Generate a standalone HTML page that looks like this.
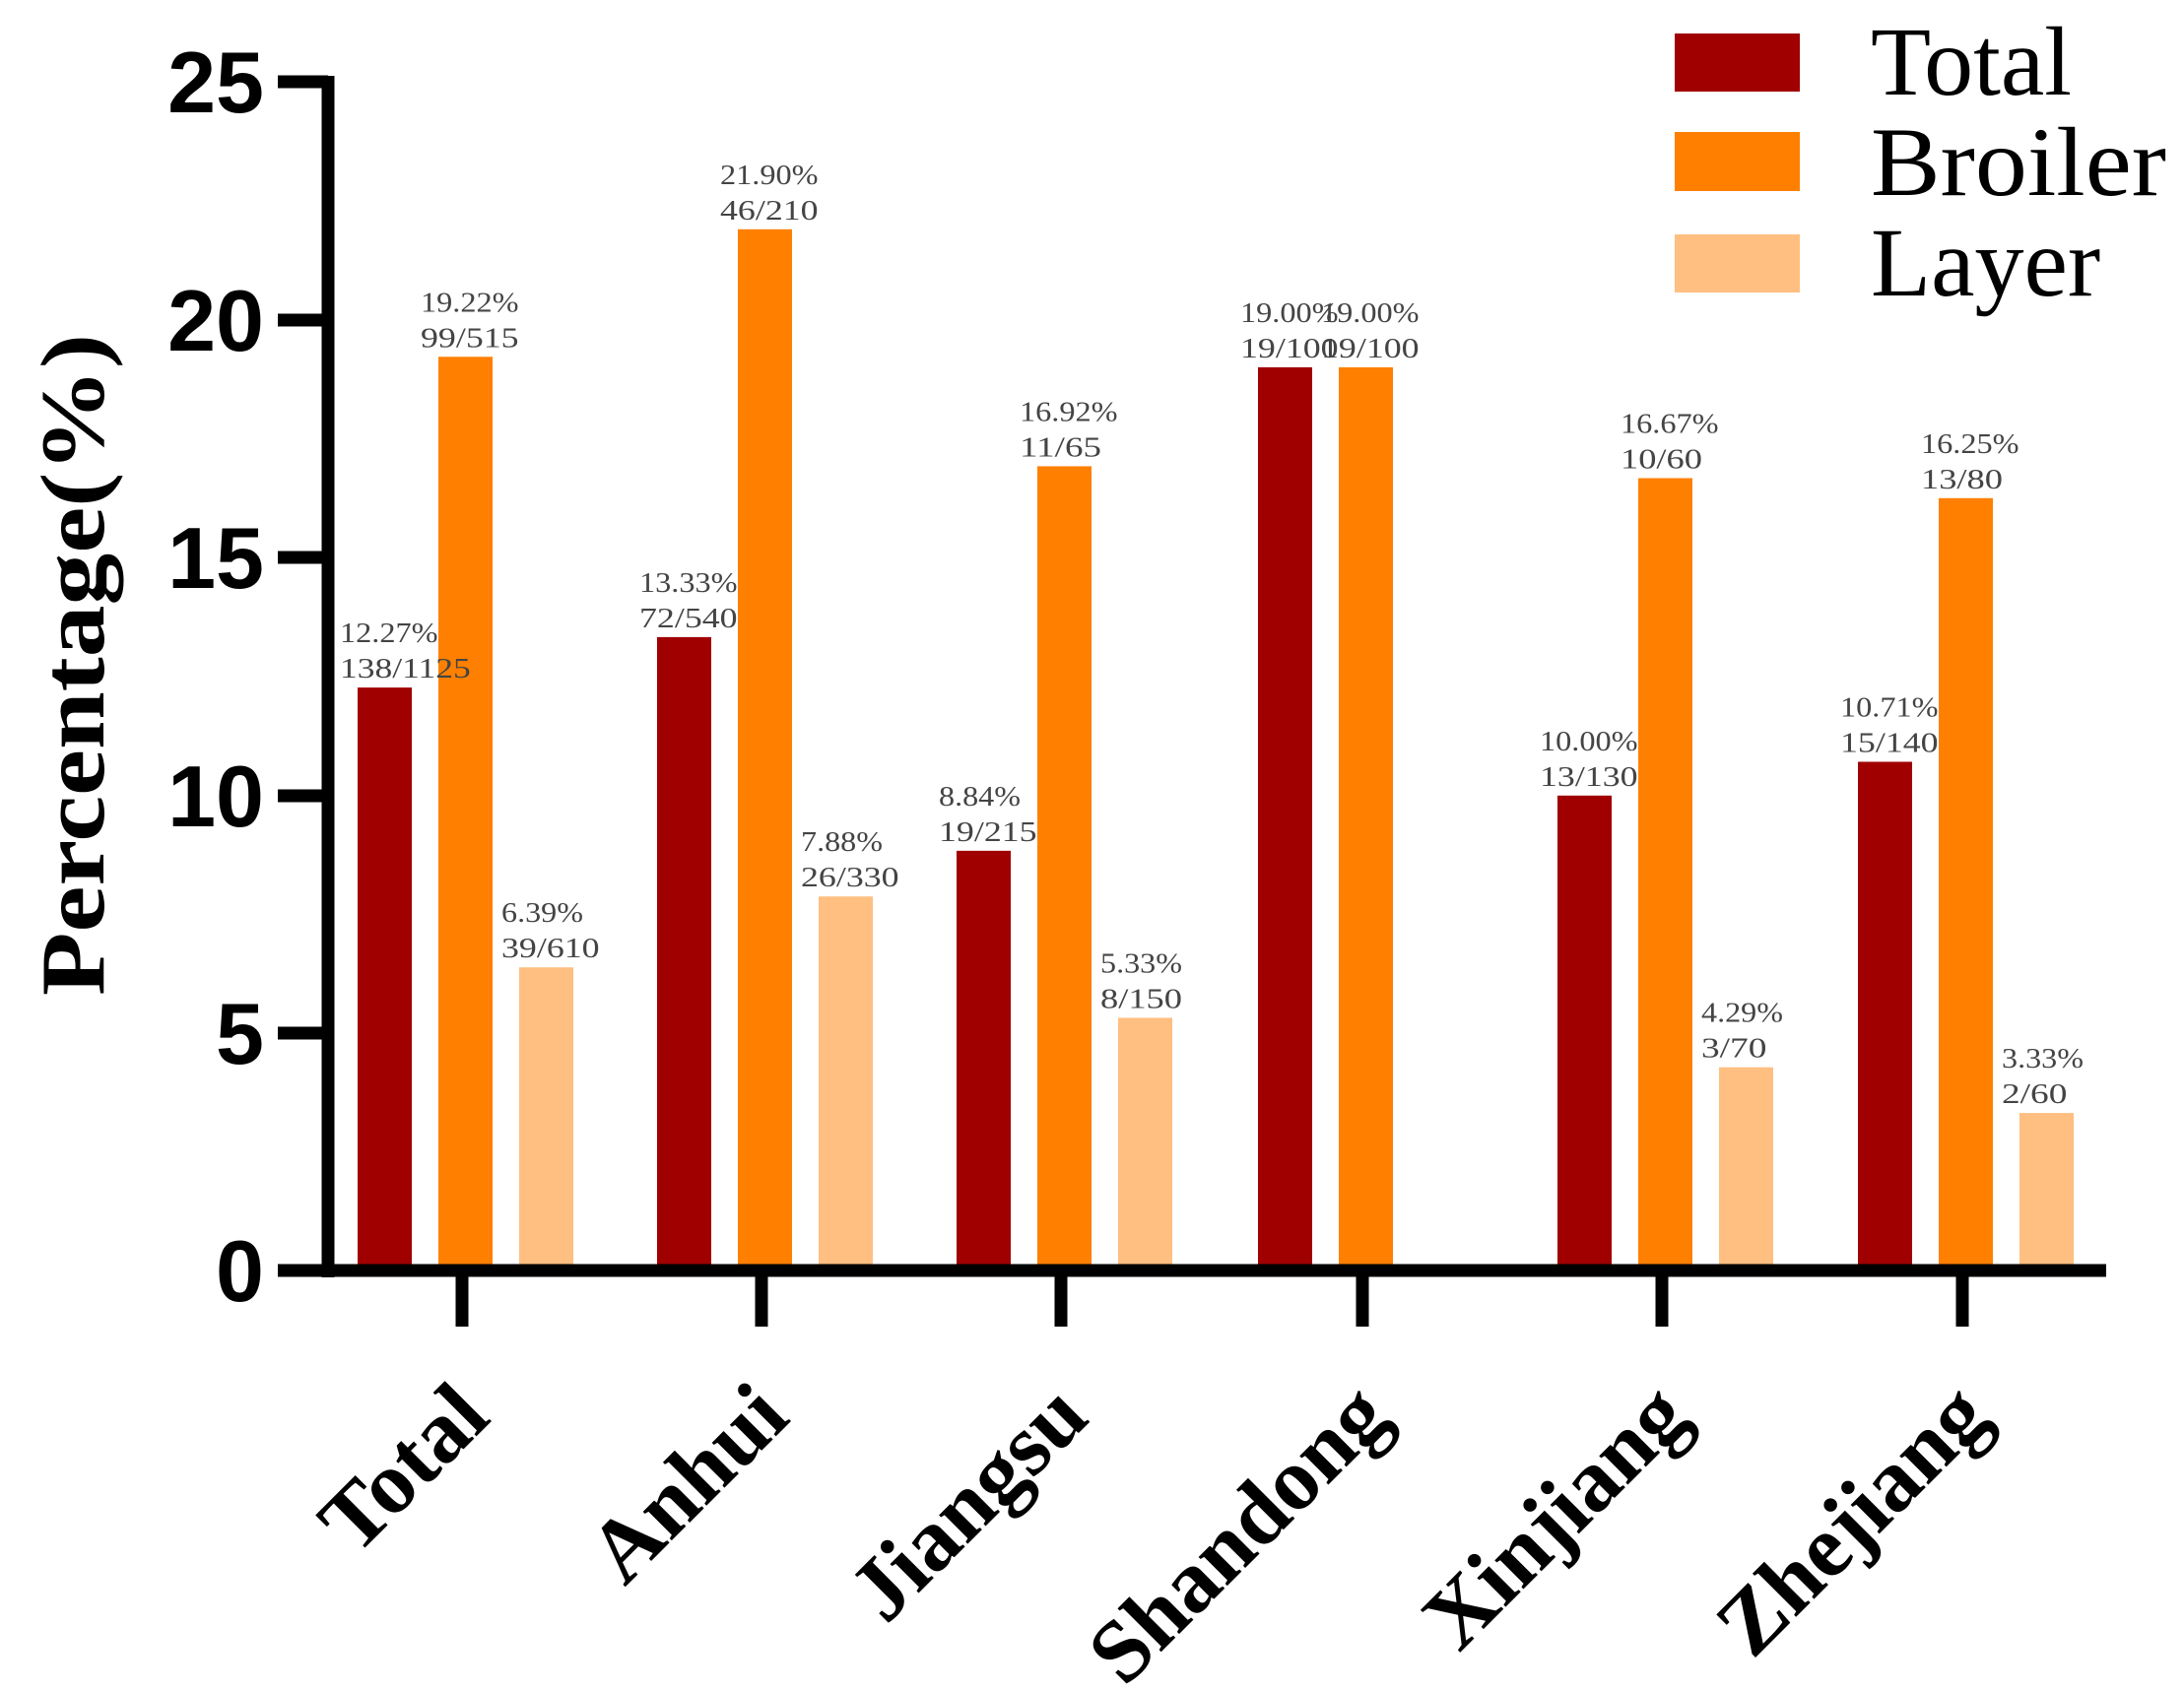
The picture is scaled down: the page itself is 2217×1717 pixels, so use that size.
<!DOCTYPE html>
<html><head><meta charset="utf-8"><style>
html,body{margin:0;padding:0;background:#fff;}
svg{display:block;}
</style></head><body>
<svg width="2217" height="1717" viewBox="0 0 2217 1717" xmlns="http://www.w3.org/2000/svg">
<rect width="2217" height="1717" fill="#fff"/>
<!-- bars -->
<g id="bars"></g>
<!-- axes -->
<line x1="333" y1="77" x2="333" y2="1297" stroke="#000" stroke-width="13"/>
<line x1="327" y1="1290" x2="2138" y2="1290" stroke="#000" stroke-width="13"/>
<g stroke="#000" stroke-width="13">
<line x1="282" y1="83" x2="333" y2="83"/>
<line x1="282" y1="325" x2="333" y2="325"/>
<line x1="282" y1="566" x2="333" y2="566"/>
<line x1="282" y1="808" x2="333" y2="808"/>
<line x1="282" y1="1049" x2="333" y2="1049"/>
<line x1="282" y1="1290" x2="333" y2="1290"/>
<line x1="469" y1="1290" x2="469" y2="1347"/>
<line x1="773" y1="1290" x2="773" y2="1347"/>
<line x1="1077" y1="1290" x2="1077" y2="1347"/>
<line x1="1383" y1="1290" x2="1383" y2="1347"/>
<line x1="1687" y1="1290" x2="1687" y2="1347"/>
<line x1="1992" y1="1290" x2="1992" y2="1347"/>
</g>
<g font-family="Liberation Sans, sans-serif" font-weight="bold" font-size="88" text-anchor="end" fill="#000">
<text x="268" y="114">25</text>
<text x="268" y="356">20</text>
<text x="268" y="597">15</text>
<text x="268" y="839">10</text>
<text x="268" y="1080">5</text>
<text x="268" y="1321">0</text>
</g>
<text transform="translate(105,675) rotate(-90)" text-anchor="middle" font-family="Liberation Serif, serif" font-weight="bold" font-size="92" textLength="672" lengthAdjust="spacingAndGlyphs">Percentage(%)</text>
<g font-family="Liberation Serif, serif" font-weight="bold" font-size="90" text-anchor="end">
<text transform="translate(500,1442) rotate(-45)">Total</text>
<text transform="translate(804,1442) rotate(-45)">Anhui</text>
<text transform="translate(1108,1442) rotate(-45)">Jiangsu</text>
<text transform="translate(1414,1442) rotate(-45)">Shandong</text>
<text transform="translate(1718,1442) rotate(-45)">Xinjiang</text>
<text transform="translate(2023,1442) rotate(-45)">Zhejiang</text>
</g>
<!-- legend -->
<rect x="1700" y="34" width="127" height="59" fill="#a00000"/>
<rect x="1700" y="134" width="127" height="60" fill="#ff8000"/>
<rect x="1700" y="238" width="127" height="59" fill="#ffbf80"/>
<g font-family="Liberation Serif, serif" font-size="100" fill="#000">
<text x="1899" y="96">Total</text>
<text x="1899" y="198" textLength="300" lengthAdjust="spacingAndGlyphs">Broiler</text>
<text x="1899" y="300">Layer</text>
</g>
<g id="labels" font-family="Liberation Serif, serif" font-size="28" fill="#444"></g>
<script>
var data=[[469,12.27,"138/1125",19.22,"99/515",6.39,"39/610"],
[773,13.33,"72/540",21.90,"46/210",7.88,"26/330"],
[1077,8.84,"19/215",16.92,"11/65",5.33,"8/150"],
[1383,19.00,"19/100",19.00,"19/100",null,null],
[1687,10.00,"13/130",16.67,"10/60",4.29,"3/70"],
[1992,10.71,"15/140",16.25,"13/80",3.33,"2/60"]];
var cols=["#a00000","#ff8000","#ffbf80"],offs=[-106,-24,58];
var ns="http://www.w3.org/2000/svg",bars=document.getElementById("bars"),lab=document.getElementById("labels");
function y(v){return 1291-v*48.32;}
data.forEach(function(d){
 for(var i=0;i<3;i++){var v=d[1+2*i];if(v===null)continue;
  var x=d[0]+offs[i],t=y(v);
  var r=document.createElementNS(ns,"rect");r.setAttribute("x",x);r.setAttribute("y",t);r.setAttribute("width",55);r.setAttribute("height",1284-t);r.setAttribute("fill",cols[i]);bars.appendChild(r);
  var s1=v.toFixed(2)+"%",s2=d[2+2*i];
  [[s1,t-46],[s2,t-10]].forEach(function(p){var tx=document.createElementNS(ns,"text");tx.setAttribute("x",x-18);tx.setAttribute("y",p[1]);tx.setAttribute("textLength",p[0].length*16.6);tx.setAttribute("lengthAdjust","spacingAndGlyphs");tx.textContent=p[0];lab.appendChild(tx);});
 }
});
</script>
</svg>
</body></html>
